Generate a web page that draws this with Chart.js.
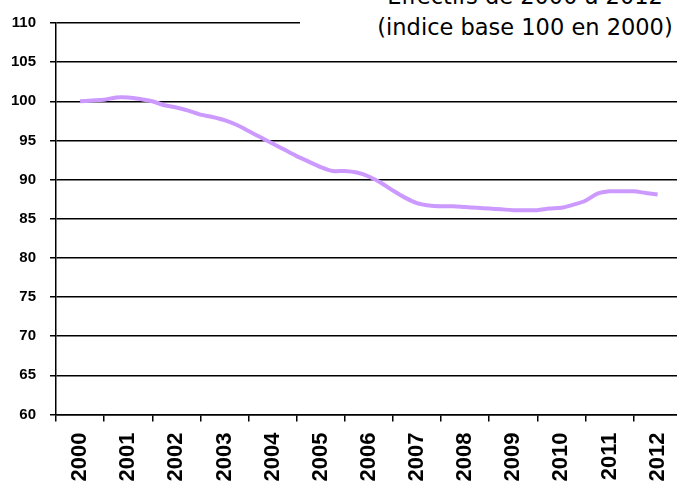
<!DOCTYPE html>
<html>
<head>
<meta charset="utf-8">
<script src="https://cdn.jsdelivr.net/npm/chart.js@4/dist/chart.umd.min.js"></script>
<style>
  body { margin: 0; overflow: hidden; background: #fff; }
  #wrap { position: relative; width: 677px; height: 485px; overflow: hidden; }
  #title {
    position: absolute; left: 300px; top: -19px; width: 450px; height: 70px;
    background: #fff; text-align: center; color: #000;
    font-family: "DejaVu Sans", sans-serif; font-size: 22.5px; line-height: 31px;
  }
</style>
</head>
<body>
<div id="wrap">
  <canvas id="chart" width="695" height="485"></canvas>
  <div id="title">Effectifs de 2000 à 2012<br>(indice base 100 en 2000)</div>
</div>
<script>
// années affichées sur l'axe
const years = ["2000", "2001", "2002", "2003", "2004", "2005", "2006", "2007", "2008", "2009", "2010", "2011", "2012"];

// indice trimestriel, base 100 en 2000 (T1 2000 -> T1 2012)
const firstYear = 2000;
const perYear = 4;
const indexValues = [
    100.0, 100.1, 100.2, 100.5,
    100.5, 100.3, 100.0, 99.5,
    99.2, 98.8, 98.3, 98.0,
    97.6, 97.0, 96.2, 95.4,
    94.6, 93.8, 93.0, 92.3,
    91.6, 91.1, 91.1, 90.9,
    90.4, 89.6, 88.6, 87.7,
    87.0, 86.7, 86.6, 86.6,
    86.5, 86.4, 86.3, 86.2,
    86.1, 86.1, 86.1, 86.3,
    86.4, 86.8, 87.3, 88.2,
    88.5, 88.5, 88.5, 88.3,
    88.1
];

// graduations de l'axe vertical
const yMin = 60;
const yMax = 110;
const yStep = 5;

const points = indexValues.map((v, i) => ({ x: firstYear + i / perYear, y: v }));

const config = {
    type: "line",
    data: {
        labels: years,
        datasets: [
            {
                label: "Effectifs",
                data: points,
                xAxisID: "xq",
                borderColor: "#cc99ff",
                borderWidth: 4,
                pointRadius: 0,
                tension: 0.3,
                fill: false,
            },
        ],
    },
    options: {
        responsive: false,
        animation: false,
        layout: { padding: { top: 20, right: 0, left: 0, bottom: 0 } },
        plugins: {
            legend: { display: false },
            tooltip: { enabled: false },
        },
        scales: {
            x: {
                type: "category",
                labels: years,
                offset: true,
                grid: {
                    offset: true,
                    drawOnChartArea: false,
                    drawTicks: true,
                    tickLength: 7,
                    color: "#000",
                    lineWidth: 1.5,
                },
                border: { color: "#000", width: 1.5 },
                ticks: {
                    autoSkip: false,
                    maxRotation: 90,
                    minRotation: 90,
                    padding: 11,
                    color: "#000",
                    font: { family: "Liberation Sans", size: 22, weight: "bold" },
                },
                afterFit: (s) => { s.height = 70.5; },
            },
            xq: {
                type: "linear",
                display: false,
                min: firstYear - 0.5,
                max: firstYear + years.length - 0.5,
            },
            y: {
                min: yMin,
                max: yMax,
                ticks: {
                    stepSize: yStep,
                    padding: 14,
                    color: "#000",
                    font: { family: "Liberation Sans", size: 15, weight: "bold" },
                },
                grid: {
                    color: "#000",
                    lineWidth: 1.5,
                    tickLength: 6,
                },
                border: { color: "#000", width: 1.5 },
                afterFit: (s) => { s.width = 56; },
            },
        },
    },
};

new Chart(document.getElementById("chart").getContext("2d"), config);
</script>
</body>
</html>
